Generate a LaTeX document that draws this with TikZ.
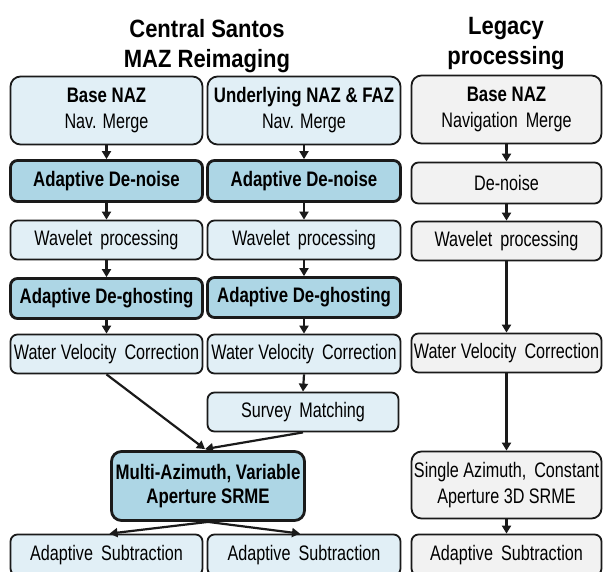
\documentclass[tikz,border=0pt]{standalone}
\usepackage{fontspec}
\setmainfont{Liberation Sans}
\newfontfamily\boxfont{Liberation Sans}[FakeStretch=0.77]
\newfontfamily\boxbf{Liberation Sans}[FakeStretch=0.8]
\newfontfamily\titlefont{Liberation Sans}[FakeStretch=0.88]
\usetikzlibrary{arrows.meta}
\definecolor{lb}{HTML}{E1EFF6}
\definecolor{mb}{HTML}{ADD6E5}
\definecolor{gy}{HTML}{F2F2F2}
\definecolor{bd}{HTML}{1A1A1A}
\newcommand{\bt}[1]{{\boxbf\bfseries #1}}
\tikzset{
  box/.style={draw=bd, line width=1.8pt, rounded corners=7pt, align=center, inner sep=0pt,
    font=\boxfont\fontsize{21}{26}\selectfont},
  tall/.style={rounded corners=10pt},
  lbox/.style={box, fill=lb},
  hbox/.style={box, fill=mb, line width=2.8pt, font=\boxbf\bfseries\fontsize{21}{24}\selectfont},
  gbox/.style={box, fill=gy},
  ttl/.style={align=center, font=\titlefont\bfseries\fontsize{25}{30}\selectfont},
  arr/.style={-{Triangle[length=8pt,width=9pt]}, line width=2.2pt, draw=bd},
}
\begin{document}
\begin{tikzpicture}[x=1pt,y=-1pt]
\useasboundingbox (0,0) rectangle (603,571);
\clip (0,0) rectangle (603,571);
% titles
\node[ttl] (t1) at (207,46) {Central Santos\\MAZ Reimaging};
\node[ttl] (t2) at (506,44) {Legacy\\processing};
% column 1
\node[lbox,tall,minimum width=192pt,minimum height=68pt] (b1) at (106.5,110.5) {\bt{Base NAZ}\\Nav. Merge};
\node[hbox,minimum width=192pt,minimum height=41pt] (d1) at (106.5,181) {Adaptive De-noise};
\node[lbox,minimum width=192pt,minimum height=39pt] (w1) at (106.5,240) {Wavelet\, processing};
\node[hbox,minimum width=192pt,minimum height=40pt] (g1) at (106.5,298.5) {Adaptive De-ghosting};
\node[lbox,minimum width=192pt,minimum height=39pt] (v1) at (106.5,354) {Water Velocity\, Correction};
% column 2
\node[lbox,tall,minimum width=193pt,minimum height=68pt] (b2) at (304,110.5) {\bt{Underlying NAZ \& FAZ}\\Nav. Merge};
\node[hbox,minimum width=193pt,minimum height=41pt] (d2) at (304,181) {Adaptive De-noise};
\node[lbox,minimum width=193pt,minimum height=39pt] (w2) at (304,240) {Wavelet\, processing};
\node[hbox,minimum width=193pt,minimum height=40pt] (g2) at (304,297.5) {Adaptive De-ghosting};
\node[lbox,minimum width=193pt,minimum height=39pt] (v2) at (304,354) {Water Velocity\, Correction};
\node[lbox,minimum width=191pt,minimum height=39pt] (s2) at (303,412) {Survey\, Matching};
% merged
\node[hbox,tall,minimum width=193pt,minimum height=69pt] (m) at (208,486) {Multi-Azimuth, Variable\\Aperture SRME};
\node[lbox,minimum width=192pt,minimum height=41pt] (a1) at (106.5,555) {Adaptive\, Subtraction};
\node[lbox,minimum width=193pt,minimum height=41pt] (a2) at (304,555) {Adaptive\, Subtraction};
% column 3
\node[gbox,tall,minimum width=190pt,minimum height=68pt] (b3) at (506.5,109.5) {\bt{Base NAZ}\\Navigation\, Merge};
\node[gbox,minimum width=190pt,minimum height=41pt] (d3) at (506.5,183) {De-noise};
\node[gbox,minimum width=190pt,minimum height=39pt] (w3) at (506.5,241) {Wavelet\, processing};
\node[gbox,minimum width=190pt,minimum height=39pt] (v3) at (506.5,353) {Water Velocity\, Correction};
\node[gbox,tall,minimum width=190pt,minimum height=67pt] (sa) at (506.5,485) {Single Azimuth,\, Constant\\Aperture 3D SRME};
\node[gbox,minimum width=190pt,minimum height=41pt] (a3) at (506.5,555) {Adaptive\, Subtraction};
\coordinate (mtop) at ([xshift=-3pt,yshift=1pt]m.north);
% connectors
\foreach \p/\q in {b1/d1,d1/w1,w1/g1,g1/v1,b2/d2,d2/w2,w2/g2,g2/v2,v2/s2,b3/d3,d3/w3,w3/v3,v3/sa,sa/a3}
  \draw[arr] (\p.south) -- (\q.north);
\draw[arr] (v1.south) -- (mtop);
\draw[arr] (s2.south) -- (mtop);
\draw[arr] (m.south) -- ([xshift=3pt]a1.north);
\draw[arr] (m.south) -- ([xshift=-4pt]a2.north);
\end{tikzpicture}
\end{document}
